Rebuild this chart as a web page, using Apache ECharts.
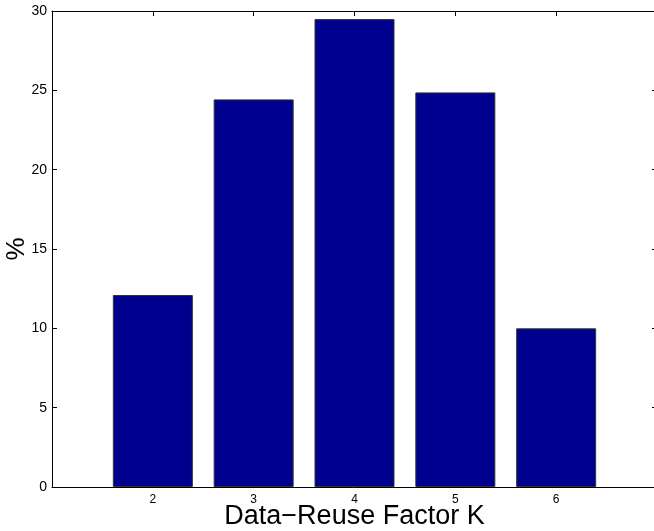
<!DOCTYPE html>
<html>
<head>
<meta charset="utf-8">
<script src="https://cdn.jsdelivr.net/npm/echarts@6/dist/echarts.min.js"></script>
<style>
html,body{margin:0;padding:0;background:#fff;}
#chart{width:654px;height:531px;}
</style>
</head>
<body>
<div id="chart"></div>
<script>
const categories = [2, 3, 4, 5, 6];
const percentValues = [12.1, 24.43, 29.49, 24.87, 10.0];
const yTicks = [0, 5, 10, 15, 20, 25, 30];
const xLabel = 'Data\u2212Reuse Factor K';
const yLabel = '%';

const chart = echarts.init(document.getElementById('chart'));
const font = 'Liberation Sans, Arial, Helvetica, sans-serif';
const axisLine = { show: true, onZero: false, lineStyle: { color: '#000', width: 1 } };
const tick = { show: true, inside: true, length: 5, lineStyle: { color: '#000', width: 1 } };

chart.setOption({
  animation: false,
  backgroundColor: '#fff',
  grid: { left: 52, top: 11, width: 605, bottom: 44, containLabel: false, outerBoundsMode: 'none' },
  xAxis: [
    {
      type: 'value', position: 'bottom', min: 1, max: 7, interval: 1,
      axisLine: axisLine, axisTick: tick, splitLine: { show: false },
      axisLabel: {
        color: '#000', fontFamily: font, fontSize: 12, margin: 7,
        formatter: v => categories.includes(v) ? String(v) : ''
      },
      name: xLabel, nameLocation: 'middle', nameGap: 16, nameMoveOverlap: false,
      nameTextStyle: { color: '#000', fontFamily: font, fontSize: 27 }
    },
    {
      type: 'value', position: 'top', min: 1, max: 7, interval: 1,
      axisLine: axisLine, axisTick: tick, splitLine: { show: false },
      axisLabel: { show: false }
    }
  ],
  yAxis: [
    {
      type: 'value', position: 'left', min: yTicks[0], max: yTicks[yTicks.length - 1], interval: 5,
      axisLine: axisLine, axisTick: tick, splitLine: { show: false },
      axisLabel: { color: '#000', fontFamily: font, fontSize: 14, margin: 5 },
      name: yLabel, nameLocation: 'middle', nameGap: 22, nameRotate: 90, nameMoveOverlap: false,
      nameTextStyle: { color: '#000', fontFamily: font, fontSize: 26 }
    },
    {
      type: 'value', position: 'right', min: yTicks[0], max: yTicks[yTicks.length - 1], interval: 5,
      axisLine: axisLine, axisTick: tick, splitLine: { show: false },
      axisLabel: { show: false }
    }
  ],
  series: [{
    type: 'bar',
    xAxisIndex: 0, yAxisIndex: 0,
    data: categories.map((c, i) => [c, percentValues[i]]),
    barWidth: 80,
    itemStyle: { color: '#00008F', borderColor: '#333', borderWidth: 1 }
  }]
});
</script>
</body>
</html>
